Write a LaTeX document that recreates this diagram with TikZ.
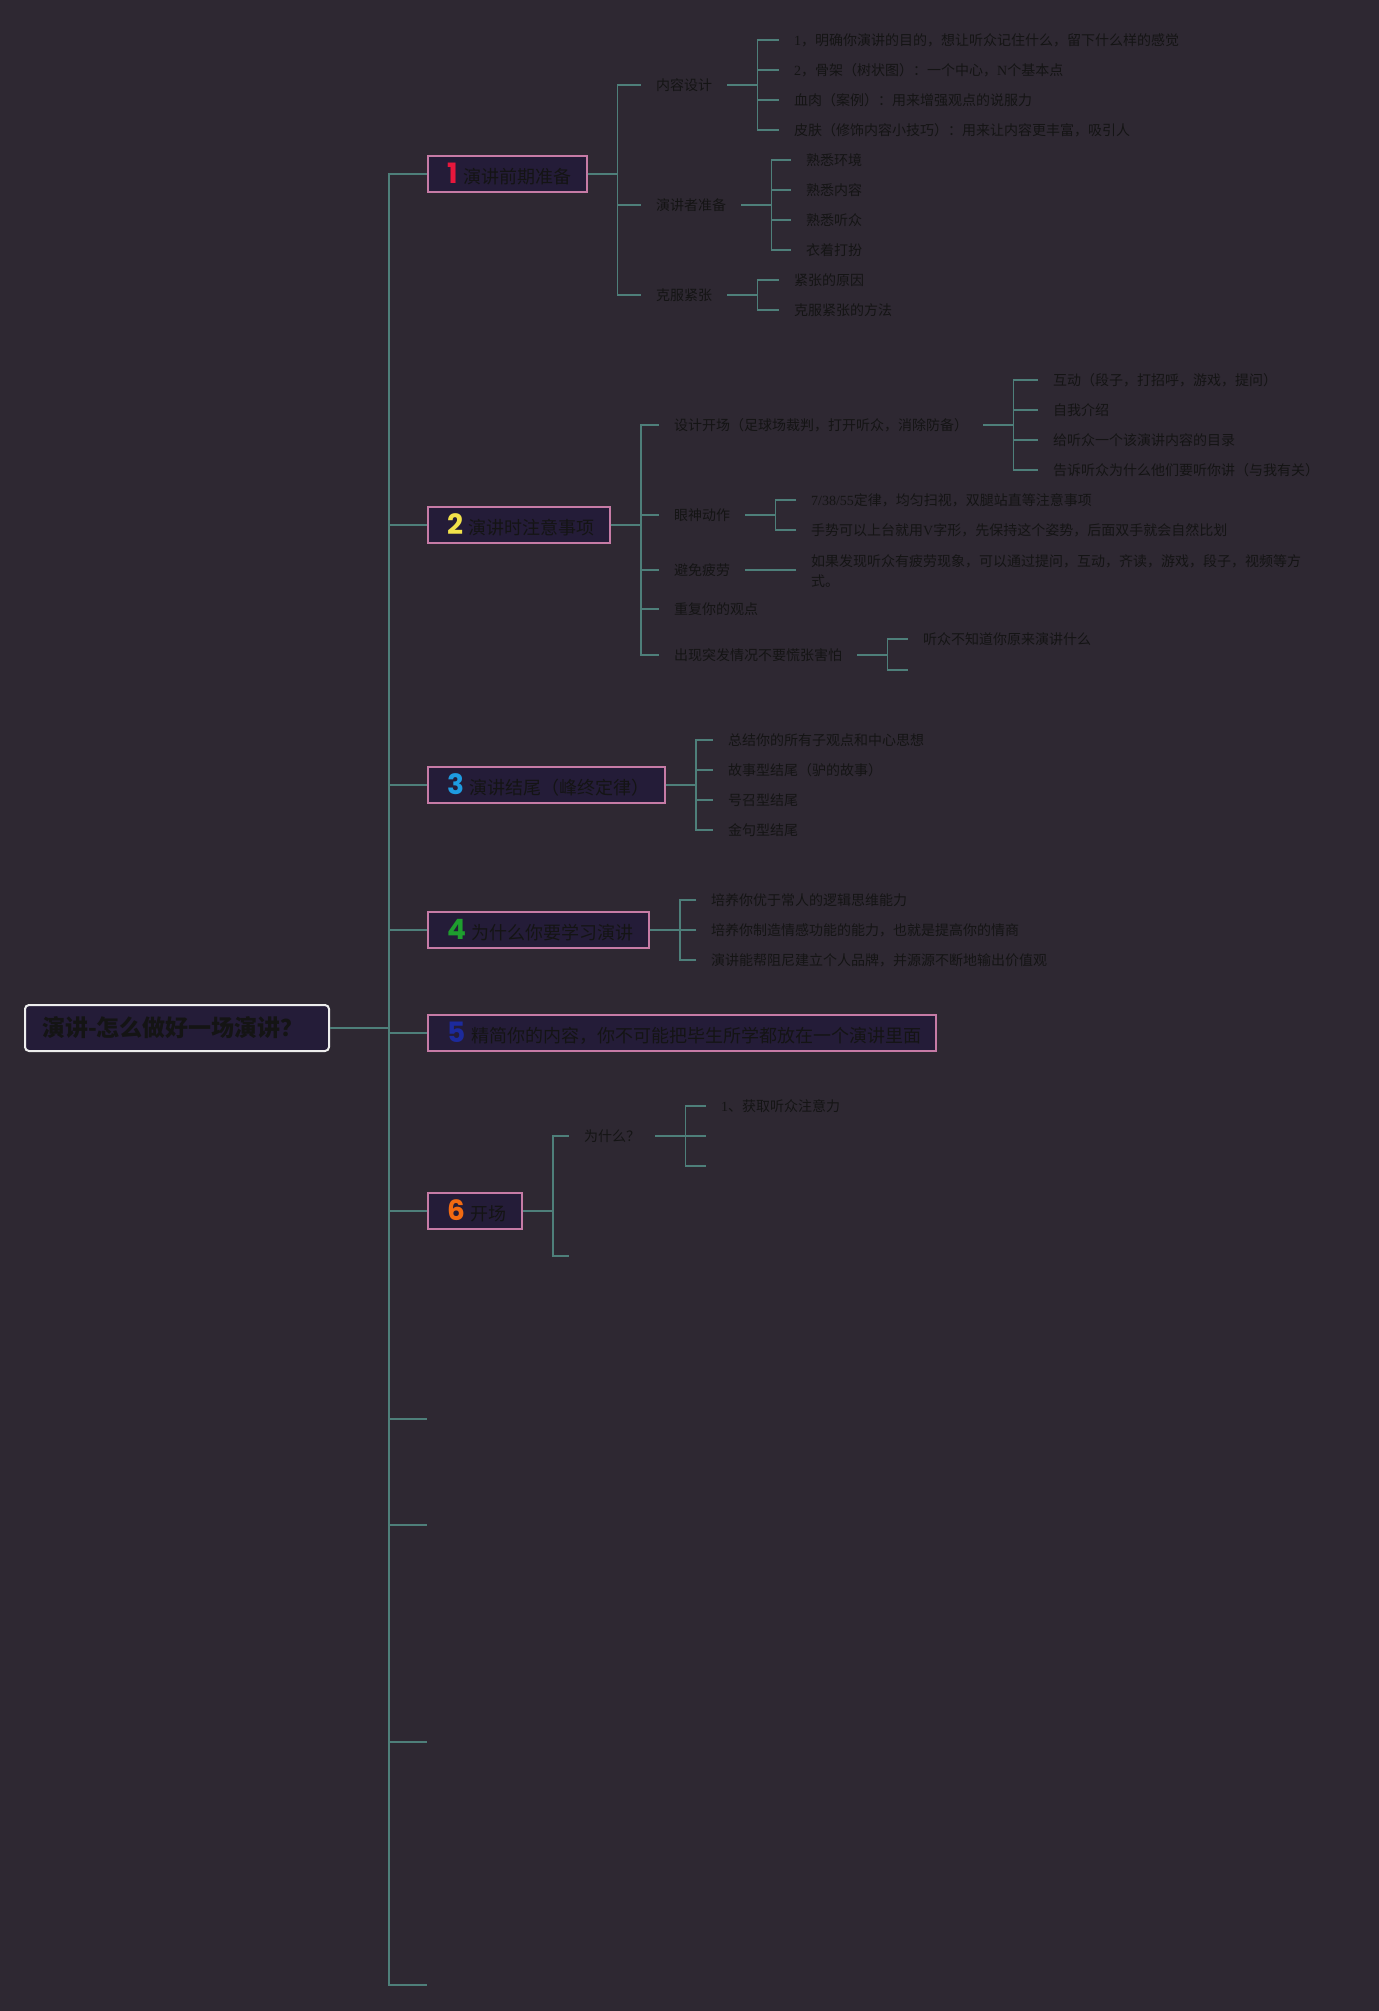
\documentclass[tikz,border=0pt]{standalone}
\usepackage{fontspec}
\setmainfont{Noto Sans CJK SC}
\newfontfamily\numfont{Poppins}
\newfontfamily\latfont{Liberation Serif}
\usepackage{tikz}

\definecolor{bgcol}{HTML}{2E2832}
\definecolor{boxfill}{HTML}{241C38}
\definecolor{boxline}{HTML}{C67BA6}
\definecolor{rootline}{HTML}{EDEDED}
\definecolor{linkcol}{HTML}{4E7F7A}
\definecolor{inkcol}{HTML}{141414}
\definecolor{numone}{HTML}{E8173C}
\definecolor{numtwo}{HTML}{F2E24A}
\definecolor{numthree}{HTML}{1E9BE0}
\definecolor{numfour}{HTML}{1E9E2E}
\definecolor{numfive}{HTML}{1C2A9C}
\definecolor{numsix}{HTML}{F26A12}

\newcommand{\lat}[1]{{\latfont #1}}
\newcommand{\topicnum}[2]{\hspace*{4pt}{\numfont\bfseries\fontsize{28}{28}\selectfont\color{#1}#2}\hspace{6pt}}

\tikzset{
    root/.style={draw=rootline, line width=2pt, rounded corners=4pt, fill=boxfill, text=inkcol,
        font=\bfseries\fontsize{23}{25}\selectfont, text width=270pt, align=left, minimum height=46pt,
        inner xsep=17pt, inner ysep=0pt, anchor=west},
    topic/.style={draw=boxline, line width=2pt, fill=boxfill, text=inkcol,
        font=\fontsize{18}{20}\selectfont, minimum height=36pt, inner xsep=15pt, inner ysep=3pt,
        anchor=west},
    item/.style={text=inkcol, font=\fontsize{14}{20}\selectfont, inner xsep=15pt, inner ysep=2pt,
        anchor=west, align=left},
    link/.style={draw=linkcol, line width=1.6pt},
}

\begin{document}
\begin{tikzpicture}[x=1pt,y=-1pt]
        \fill[bgcol] (0,0) rectangle (1379,2011);
        \useasboundingbox (0,0) rectangle (1379,2011);

        \node[root] (root) at (24,1028) {演讲-怎么做好一场演讲？};

        % main topics
        \node[topic] (pre) at (427,174) {\topicnum{numone}{1}演讲前期准备};
        \node[topic] (during) at (427,525) {\topicnum{numtwo}{2}演讲时注意事项};
        \node[topic] (ending) at (427,785) {\topicnum{numthree}{3}演讲结尾（峰终定律）};
        \node[topic] (why) at (427,930) {\topicnum{numfour}{4}为什么你要学习演讲};
        \node[topic] (trim) at (427,1033) {\topicnum{numfive}{5}精简你的内容，你不可能把毕生所学都放在一个演讲里面};
        \node[topic] (opening) at (427,1211) {\topicnum{numsix}{6}开场};
        \coordinate (blanka) at (427,1419);
        \coordinate (blankb) at (427,1525);
        \coordinate (blankc) at (427,1742);
        \coordinate (blankd) at (427,1985);

        \foreach \t in {pre,during,ending,why,trim,opening}
            \draw[link] (root.east) -- ++(59,0) |- (\t.west);
        \foreach \t in {blanka,blankb,blankc,blankd}
            \draw[link] (root.east) -- ++(59,0) |- (\t);

        % 1
        \node[item] (prea) at (641,85) {内容设计};
        \node[item] (preb) at (641,205) {演讲者准备};
        \node[item] (prec) at (641,295) {克服紧张};
        \foreach \c in {prea,preb,prec}
            \draw[link] (pre.east) -- ++(30,0) |- (\c.west);

        \node[item] (preaa) at (779,40) {\lat{1}，明确你演讲的目的，想让听众记住什么，留下什么样的感觉};
        \node[item] (preab) at (779,70) {\lat{2}，骨架（树状图）：一个中心，\lat{N}个基本点};
        \node[item] (preac) at (779,100) {血肉（案例）：用来增强观点的说服力};
        \node[item] (pread) at (779,130) {皮肤（修饰内容小技巧）：用来让内容更丰富，吸引人};
        \foreach \c in {preaa,preab,preac,pread}
            \draw[link] (prea.east) -- ++(30,0) |- (\c.west);

        \node[item] (preba) at (791,160) {熟悉环境};
        \node[item] (prebb) at (791,190) {熟悉内容};
        \node[item] (prebc) at (791,220) {熟悉听众};
        \node[item] (prebd) at (791,250) {衣着打扮};
        \foreach \c in {preba,prebb,prebc,prebd}
            \draw[link] (preb.east) -- ++(30,0) |- (\c.west);

        \node[item] (preca) at (779,280) {紧张的原因};
        \node[item] (precb) at (779,310) {克服紧张的方法};
        \foreach \c in {preca,precb}
            \draw[link] (prec.east) -- ++(30,0) |- (\c.west);

        % 2
        \node[item] (durinda) at (659,425) {设计开场（足球场裁判，打开听众，消除防备）};
        \node[item] (durindb) at (659,515) {眼神动作};
        \node[item] (durindc) at (659,570) {避免疲劳};
        \node[item] (durindd) at (659,609) {重复你的观点};
        \node[item] (durinde) at (659,655) {出现突发情况不要慌张害怕};
        \foreach \c in {durinda,durindb,durindc,durindd,durinde}
            \draw[link] (during.east) -- ++(30,0) |- (\c.west);

        \node[item] (openaa) at (1038,380) {互动（段子，打招呼，游戏，提问）};
        \node[item] (openab) at (1038,410) {自我介绍};
        \node[item] (openac) at (1038,440) {给听众一个该演讲内容的目录};
        \node[item] (openad) at (1038,470) {告诉听众为什么他们要听你讲（与我有关）};
        \foreach \c in {openaa,openab,openac,openad}
            \draw[link] (durinda.east) -- ++(30,0) |- (\c.west);

        \node[item] (eyea) at (796,500) {\lat{7/38/55}定律，均匀扫视，双腿站直等注意事项};
        \node[item] (eyeb) at (796,530) {手势可以上台就用\lat{V}字形，先保持这个姿势，后面双手就会自然比划};
        \foreach \c in {eyea,eyeb}
            \draw[link] (durindb.east) -- ++(30,0) |- (\c.west);

        \node[item] (tired) at (796,571) {如果发现听众有疲劳现象，可以通过提问，互动，齐读，游戏，段子，视频等方\\式。};
        \draw[link] (durindc.east) -- (durindc.east -| tired.west);

        \node[item] (panica) at (908,639) {听众不知道你原来演讲什么};
        \coordinate (panicb) at (908,670);
        \draw[link] (durinde.east) -- ++(30,0) |- (panica.west);
        \draw[link] (durinde.east) -- ++(30,0) |- (panicb);

        % 3
        \node[item] (enda) at (713,740) {总结你的所有子观点和中心思想};
        \node[item] (endb) at (713,770) {故事型结尾（驴的故事）};
        \node[item] (endc) at (713,800) {号召型结尾};
        \node[item] (endd) at (713,830) {金句型结尾};
        \foreach \c in {enda,endb,endc,endd}
            \draw[link] (ending.east) -- ++(30,0) |- (\c.west);

        % 4
        \node[item] (whya) at (696,900) {培养你优于常人的逻辑思维能力};
        \node[item] (whyb) at (696,930) {培养你制造情感功能的能力，也就是提高你的情商};
        \node[item] (whyc) at (696,960) {演讲能帮阻尼建立个人品牌，并源源不断地输出价值观};
        \foreach \c in {whya,whyb,whyc}
            \draw[link] (why.east) -- ++(30,0) |- (\c.west);

        % 6
        \node[item] (opena) at (569,1136) {为什么？};
        \coordinate (openb) at (569,1256);
        \draw[link] (opening.east) -- ++(30,0) |- (opena.west);
        \draw[link] (opening.east) -- ++(30,0) |- (openb);

        \node[item] (reasona) at (706,1106) {\lat{1}、获取听众注意力};
        \coordinate (reasonb) at (706,1136);
        \coordinate (reasonc) at (706,1166);
        \draw[link] (opena.east) -- ++(30,0) |- (reasona.west);
        \foreach \c in {reasonb,reasonc}
            \draw[link] (opena.east) -- ++(30,0) |- (\c);
\end{tikzpicture}
\end{document}
